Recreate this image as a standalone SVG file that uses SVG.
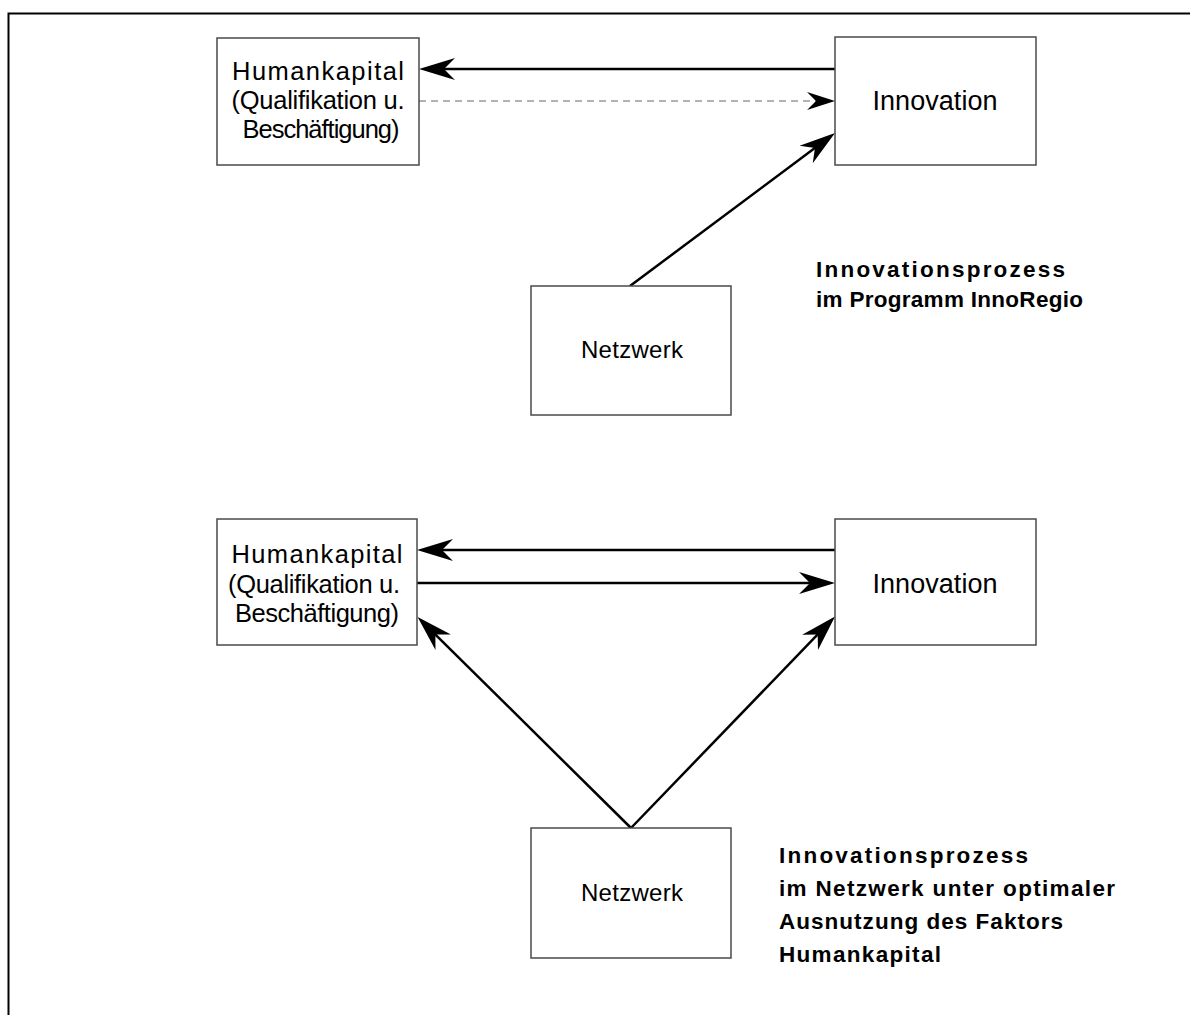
<svg xmlns="http://www.w3.org/2000/svg" width="1190" height="1015" viewBox="0 0 1190 1015">
<style>
.box{fill:#fff;stroke:#4a4a4a;stroke-width:1.5}
.t{font-family:"Liberation Sans",Arial,sans-serif;fill:#000;text-anchor:middle}
.h{font-size:25.5px}
.n{font-size:24px}
.i{font-size:27px}
.lab{font-family:"Liberation Sans",Arial,sans-serif;font-size:22.5px;font-weight:bold;fill:#000}
.c{stroke:#000;stroke-width:2.5;fill:none;marker-end:url(#ah)}
.d{stroke:#666;stroke-width:1.2;stroke-dasharray:7 5;fill:none;marker-end:url(#ahs)}
</style>
<defs>
<marker id="ah" viewBox="-37 -12 38 24" refX="-8" refY="0" markerWidth="38" markerHeight="24" markerUnits="userSpaceOnUse" orient="auto">
<path d="M0,0 L-36,-11 L-25,0 L-36,11 Z" fill="#000"/>
</marker>
<marker id="ahs" viewBox="-29 -10 30 20" refX="-6" refY="0" markerWidth="30" markerHeight="20" markerUnits="userSpaceOnUse" orient="auto">
<path d="M0,0 L-28,-9 L-19,0 L-28,9 Z" fill="#000"/>
</marker>
</defs>
<rect width="1190" height="1015" fill="#fff"/>
<path d="M8.5,1015 V13.5 H1190" fill="none" stroke="#000" stroke-width="2"/>

<g id="connectors">
<line class="c" x1="835" y1="69" x2="427" y2="69"/>
<line class="d" x1="419" y1="101" x2="829" y2="101"/>
<line class="c" x1="630" y1="286" x2="828.6" y2="137.8"/>
<line class="c" x1="835" y1="550" x2="425" y2="550"/>
<line class="c" x1="417" y1="583" x2="827" y2="583"/>
<line class="c" x1="631" y1="828" x2="423.3" y2="622.6"/>
<line class="c" x1="631" y1="828" x2="829.5" y2="622.2"/>
</g>

<g id="humankapital1">
<rect class="box" x="217" y="38" width="202" height="127"/>
<text class="t h" x="318" y="80" textLength="172" lengthAdjust="spacing">Humankapital</text>
<text class="t h" x="318" y="109" textLength="173" lengthAdjust="spacing">(Qualifikation u.</text>
<text class="t h" x="321" y="138" textLength="157" lengthAdjust="spacing">Beschäftigung)</text>
</g>
<g id="innovation1">
<rect class="box" x="835" y="37" width="201" height="128"/>
<text class="t i" x="935" y="110" textLength="125" lengthAdjust="spacing">Innovation</text>
</g>
<g id="netzwerk1">
<rect class="box" x="531" y="286" width="200" height="129"/>
<text class="t n" x="632" y="358" textLength="102" lengthAdjust="spacing">Netzwerk</text>
</g>
<g id="label1">
<text class="lab" x="816" y="277" textLength="249" lengthAdjust="spacing">Innovationsprozess</text>
<text class="lab" x="816" y="307" textLength="267" lengthAdjust="spacing">im Programm InnoRegio</text>
</g>

<g id="humankapital2">
<rect class="box" x="217" y="519" width="200" height="126"/>
<text class="t h" x="317" y="563" textLength="171" lengthAdjust="spacing">Humankapital</text>
<text class="t h" x="314" y="593" textLength="172" lengthAdjust="spacing">(Qualifikation u.</text>
<text class="t h" x="317" y="622" textLength="164" lengthAdjust="spacing">Beschäftigung)</text>
</g>
<g id="innovation2">
<rect class="box" x="835" y="519" width="201" height="126"/>
<text class="t i" x="935" y="593" textLength="125" lengthAdjust="spacing">Innovation</text>
</g>
<g id="netzwerk2">
<rect class="box" x="531" y="828" width="200" height="130"/>
<text class="t n" x="632" y="901" textLength="102" lengthAdjust="spacing">Netzwerk</text>
</g>
<g id="label2">
<text class="lab" x="779" y="863" textLength="249" lengthAdjust="spacing">Innovationsprozess</text>
<text class="lab" x="779" y="896" textLength="336" lengthAdjust="spacing">im Netzwerk unter optimaler</text>
<text class="lab" x="779" y="929" textLength="284" lengthAdjust="spacing">Ausnutzung des Faktors</text>
<text class="lab" x="779" y="962" textLength="162" lengthAdjust="spacing">Humankapital</text>
</g>
</svg>
